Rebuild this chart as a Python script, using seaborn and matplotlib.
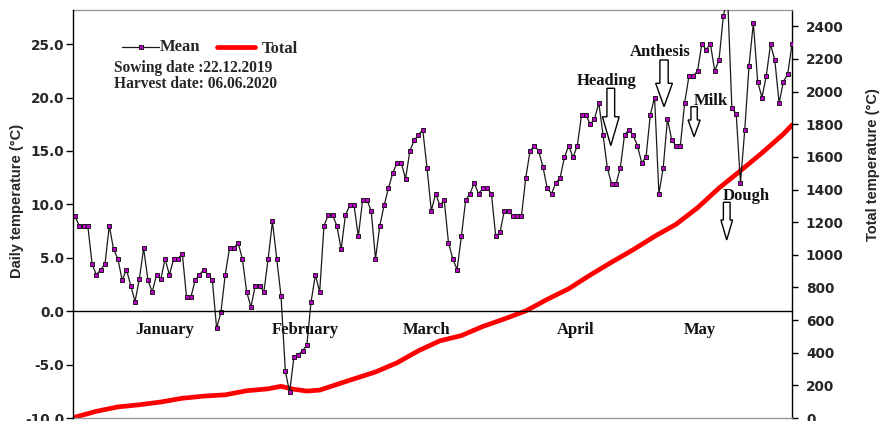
import numpy as np
import pandas as pd
import matplotlib
matplotlib.use("Agg")
import matplotlib.pyplot as plt
import seaborn as sns
from matplotlib.lines import Line2D
from matplotlib.patches import FancyArrow

# Daily mean air temperature (°C), 22.12.2019 – 06.06.2020
mean_temp = [
    8.9, 8.0, 8.0, 8.0, 4.4, 3.4, 3.9, 4.4, 8.0, 5.8,
    4.9, 2.9, 3.9, 2.4, 0.9, 3.0, 5.9, 2.9, 1.8, 3.4,
    3.0, 4.9, 3.4, 4.9, 4.9, 5.4, 1.3, 1.3, 2.9, 3.4,
    3.9, 3.4, 2.9, -1.6, -0.1, 3.4, 5.9, 5.9, 6.4, 4.9,
    1.8, 0.4, 2.4, 2.4, 1.8, 4.9, 8.4, 4.9, 1.4, -5.6,
    -7.6, -4.3, -4.1, -3.7, -3.2, 0.9, 3.4, 1.8, 8.0, 9.0,
    9.0, 8.0, 5.8, 9.0, 9.9, 9.9, 7.0, 10.4, 10.4, 9.4,
    4.9, 8.0, 9.9, 11.5, 12.9, 13.9, 13.9, 12.4, 15.0, 16.0,
    16.5, 17.0, 13.4, 9.4, 11.0, 9.9, 10.4, 6.4, 4.9, 3.9,
    7.0, 10.4, 11.0, 12.0, 11.0, 11.5, 11.5, 11.0, 7.0, 7.4,
    9.4, 9.4, 8.9, 8.9, 8.9, 12.5, 15.0, 15.5, 15.0, 13.5,
    11.5, 11.0, 12.0, 12.5, 14.4, 15.5, 14.4, 15.5, 18.4, 18.4,
    17.5, 18.0, 19.5, 16.5, 13.4, 11.9, 11.9, 13.4, 16.5, 17.0,
    16.5, 15.5, 13.9, 14.4, 18.4, 20.0, 11.0, 13.4, 18.0, 16.0,
    15.5, 15.5, 19.5, 22.0, 22.0, 22.5, 25.0, 24.5, 25.0, 22.5,
    23.5, 27.6, 29.5, 19.0, 18.5, 12.0, 17.0, 23.0, 27.0, 21.5,
    20.0, 22.0, 25.0, 23.5, 19.5, 21.5, 22.2, 25.0,
]
days = list(range(len(mean_temp)))

# Accumulated temperature (°C) at selected days
total_days = [0, 5, 10, 15, 20, 25, 30, 35, 40, 45, 48, 51, 54, 57, 60, 65,
              70, 75, 80, 85, 90, 95, 100, 105, 110, 115, 120, 125, 130, 135,
              140, 145, 150, 155, 160, 165, 167]
total_temp = [5, 41, 68, 81, 98, 121, 134, 142, 167, 179, 194, 176, 165, 171,
              197, 240, 282, 338, 412, 473, 505, 561, 607, 656, 727, 792, 876,
              955, 1031, 1113, 1187, 1288, 1409, 1515, 1624, 1740, 1795]

month_names = ["January", "February", "March", "April", "May"]
month_label_days = [21.0, 53.6, 82.0, 116.7, 145.6]
month_tick_days = [9.5, 39.5, 69.5, 104.5, 129.5, 159.5]

left_ticks = [-10, -5, 0, 5, 10, 15, 20, 25]
right_ticks = list(range(0, 2401, 200))

stage_names = ["Heading", "Anthesis", "Milk", "Dough"]

mean_df = pd.DataFrame({"day": days, "Mean": mean_temp})
total_df = pd.DataFrame({"day": total_days, "Total": total_temp})

sns.set_style("white")
plt.rcParams["font.family"] = ["DejaVu Sans"]

SERIF = ["Liberation Serif", "DejaVu Serif"]
NARROW = ["Liberation Sans Narrow", "Liberation Sans", "DejaVu Sans"]

W, H = 884, 421
fig = plt.figure(figsize=(W / 100, H / 100), dpi=100)
fig.patch.set_facecolor("white")
L, R, T, B = 73, 792, 10, 418
ax = fig.add_axes([L / W, 1 - B / H, (R - L) / W, (B - T) / H])
ax2 = ax.twinx()

# Accumulated temperature (right axis)
sns.lineplot(data=total_df, x="day", y="Total", ax=ax2, color="#ff0000",
             lw=3.4, solid_capstyle="round")

# Daily mean temperature (left axis)
sns.lineplot(data=mean_df, x="day", y="Mean", ax=ax, color="#1a1a1a", lw=0.9,
             marker="s", markersize=3.2, markerfacecolor="#c000c8",
             markeredgecolor="#1a1a1a", markeredgewidth=0.7)

ax.set_zorder(ax2.get_zorder() + 1)
ax.patch.set_visible(False)

ax.set_xlim(-0.45, 167.0)
ax.set_ylim(-10, 28.2)
ax2.set_ylim(0, 2500)

ax.set_xlabel("")
ax.set_ylabel("")
ax2.set_ylabel("")

# Left axis
ax.set_yticks(left_ticks)
ax.set_yticklabels([f"{v:.1f}" for v in left_ticks])
ax.tick_params(axis="y", which="major", direction="out", length=5, width=1,
               color="black", pad=1.5, labelsize=9.8)
for lab in ax.get_yticklabels():
    lab.set_fontweight("bold")

# Right axis
ax2.set_yticks(right_ticks)
ax2.set_yticklabels([str(v) for v in right_ticks])
ax2.tick_params(axis="y", which="major", direction="out", length=4, width=1,
                color="black", pad=6, labelsize=9.8)
for lab in ax2.get_yticklabels():
    lab.set_fontweight("bold")

# Category axis crossing at 0 °C
ax.spines["bottom"].set_position(("data", 0))
ax.spines["bottom"].set_color("black")
ax.spines["bottom"].set_linewidth(1.0)
ax.spines["top"].set_visible(False)
ax.spines["right"].set_visible(False)
ax.spines["left"].set_color("black")
ax.spines["left"].set_linewidth(1.0)
ax.set_xticks(month_tick_days)
ax.set_xticks(np.arange(4.5, 167, 5), minor=True)
ax.tick_params(axis="x", which="major", direction="out", length=15.5,
               width=2.6, color="black", labelbottom=False)
ax.tick_params(axis="x", which="minor", direction="inout", length=5.5,
               width=1.0, color="black", labelbottom=False)

ax2.spines["left"].set_visible(False)
ax2.spines["right"].set_color("black")
ax2.spines["right"].set_linewidth(1.0)
for s in ("top", "bottom"):
    ax2.spines[s].set_color("#9a9a9a")
    ax2.spines[s].set_linewidth(1.0)

# Month names along the 0 °C line
for name, d in zip(month_names, month_label_days):
    ax.text(d, -1.76, name, ha="center", va="center", fontsize=12,
            fontweight="bold", family=SERIF, color="#111111")

# Axis titles
fig.text(17 / W, 1 - 201 / H, "Daily temperature (°C)", rotation=90,
         ha="center", va="center", fontsize=10.5, fontweight="bold",
         family=NARROW)
fig.text(873 / W, 1 - 165 / H, "Total temperature (°C)", rotation=90,
         ha="center", va="center", fontsize=10.5, fontweight="bold",
         family=NARROW)

# Legend and crop dates
def axfrac(px, py):
    return (px - L) / (R - L), 1 - (py - T) / (B - T)

x0, y0 = axfrac(121.7, 47)
x1, _ = axfrac(159.3, 47)
ax.add_line(Line2D([x0, x1], [y0, y0], transform=ax.transAxes,
                   color="#1a1a1a", lw=0.9))
ax.add_line(Line2D([(x0 + x1) / 2], [y0], transform=ax.transAxes,
                   marker="s", markersize=3.2, markerfacecolor="#c000c8",
                   markeredgecolor="#1a1a1a", markeredgewidth=0.7))
tx, ty = axfrac(160, 47)
ax.text(tx, ty, "Mean", transform=ax.transAxes, ha="left", va="center",
        fontsize=12, fontweight="bold", family=SERIF)
x0, y0 = axfrac(216.7, 47)
x1, _ = axfrac(255, 47)
ax.add_line(Line2D([x0, x1], [y0, y0], transform=ax.transAxes,
                   color="#ff0000", lw=3.4))
tx, ty = axfrac(261.7, 49)
ax.text(tx, ty, "Total", transform=ax.transAxes, ha="left", va="center",
        fontsize=12, fontweight="bold", family=SERIF)
tx, ty = axfrac(114, 67.7)
ax.text(tx, ty, "Sowing date :22.12.2019", transform=ax.transAxes,
        ha="left", va="center", fontsize=11.2, fontweight="bold", family=SERIF)
tx, ty = axfrac(114, 84.3)
ax.text(tx, ty, "Harvest date: 06.06.2020", transform=ax.transAxes,
        ha="left", va="center", fontsize=11.2, fontweight="bold", family=SERIF)

# Growth stages: label position, arrow (day, top, tip, body, head width, head length)
stage_text = [(123.8, 21.55), (136.2, 24.3), (148.0, 19.7), (156.3, 10.8)]
stage_arrow = [
    (124.8, 20.87, 15.5, 1.8, 3.9, 2.7),
    (137.2, 23.52, 19.15, 1.93, 3.9, 2.19),
    (144.2, 19.15, 16.34, 1.47, 2.8, 1.56),
    (151.8, 10.2, 6.67, 1.56, 2.72, 1.87),
]
for name, (tx, ty), (ad, atop, atip, bw, hw, hl) in zip(stage_names, stage_text, stage_arrow):
    ax.text(tx, ty, name, ha="center", va="center", fontsize=12,
            fontweight="bold", family=SERIF, color="#111111", zorder=5)
    ax.add_patch(FancyArrow(ad, atop, 0, atip - atop, width=bw,
                            head_width=hw, head_length=hl,
                            length_includes_head=True, facecolor="white",
                            edgecolor="black", lw=1.0, zorder=6))

fig.savefig("out.png", dpi=100, facecolor="white")
